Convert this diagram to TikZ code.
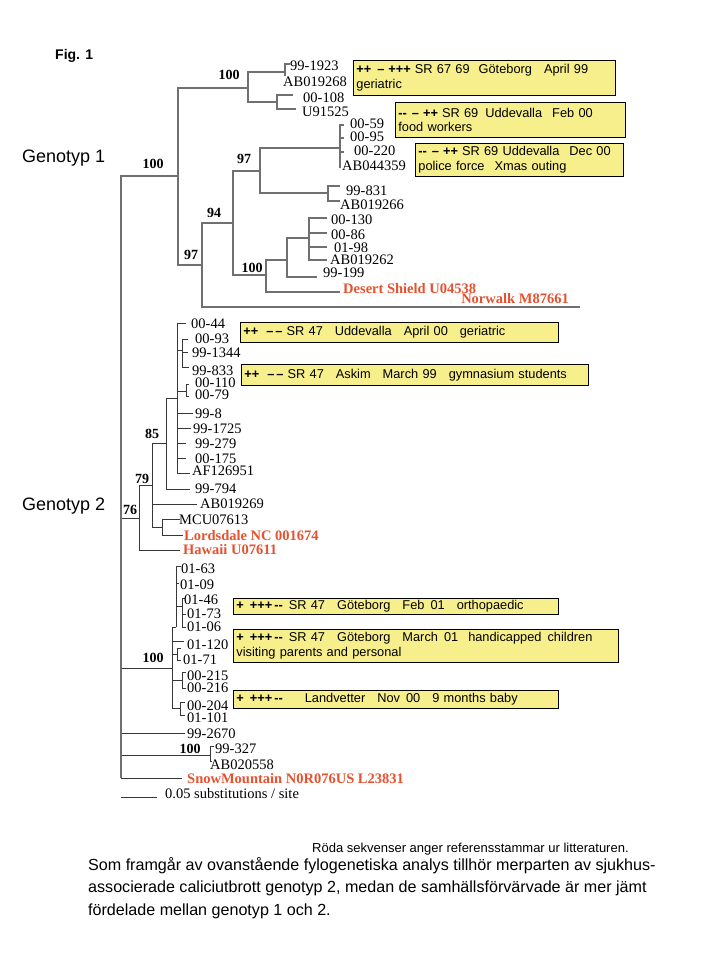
\documentclass[tikz,border=0pt]{standalone}
\usepackage{fontspec}
\setmainfont{Liberation Serif}
\newfontfamily\arialfont{Liberation Sans}
\definecolor{refred}{RGB}{230,82,48}
\definecolor{noteyellow}{RGB}{247,239,140}
\definecolor{branchgray}{RGB}{112,112,112}
\newcommand\symb[1]{{\bfseries #1}}
\begin{document}
\begin{tikzpicture}[x=1pt,y=-1pt,
  br/.style={draw=branchgray, line width=1.3pt},
  brt/.style={draw=black!78, line width=0.8pt},
  leaf/.style={anchor=west, inner sep=0pt, text height=10pt, text depth=0pt, font=\fontsize{14.5}{16}\selectfont},
  refleaf/.style={leaf, text=refred, font=\fontsize{14.5}{16}\selectfont\bfseries},
  boot/.style={inner sep=0pt, text height=10pt, text depth=0pt, font=\fontsize{14}{16}\selectfont\bfseries},
  note/.style={draw=black, line width=0.8pt, fill=noteyellow, anchor=north west, align=left, inner xsep=3pt, inner ysep=0pt, font=\arialfont\fontsize{12.8}{14.5}\selectfont},
  sanslabel/.style={anchor=west, inner sep=0pt, text height=10pt, text depth=0pt},
]
\fill[white] (0,0) rectangle (720,960);
\useasboundingbox (0,0) rectangle (720,960);

% ---------- headings ----------
\node[sanslabel, font=\arialfont\bfseries\fontsize{14}{16}\selectfont] (fig) at (55,55) {Fig. 1};
\node[sanslabel, font=\arialfont\fontsize{18}{20}\selectfont] (geno1) at (22,158) {Genotyp 1};
\node[sanslabel, font=\arialfont\fontsize{18}{20}\selectfont] (geno2) at (22,505) {Genotyp 2};

% ---------- coordinates: root and internal nodes ----------
\coordinate (R) at (121,518);
\coordinate (nA) at (178,176);
\coordinate (nA1) at (248,88);
\coordinate (nA11) at (285,72);
\coordinate (nA12) at (277,102);
\coordinate (nB) at (202,265);
\coordinate (nC) at (233,223);
\coordinate (nD) at (260,171);
\coordinate (nD1) at (340,148);
\coordinate (nD2) at (328,193);
\coordinate (nE) at (266,275);
\coordinate (nF) at (287,260);
\coordinate (nG) at (309,238);
% genotype 2
\coordinate (nK) at (139,518);
\coordinate (nK1) at (152,485);
\coordinate (nK2) at (162,527);
\coordinate (nH0) at (166,443);
\coordinate (nH) at (177,398);
\coordinate (nH1) at (182,350);
\coordinate (nH2) at (186,391);
% third clade
\coordinate (nL) at (172,668);
\coordinate (nL1) at (176,627);
\coordinate (nL1a) at (182,606);
\coordinate (nL2) at (177,654);
\coordinate (nL3) at (182,680);
\coordinate (nL4) at (180,708);
\coordinate (nM) at (210,755);

% ---------- tips ----------
\coordinate (t1923) at (290,64);
\coordinate (t9268) at (285,76);
\coordinate (t0108) at (293,95);
\coordinate (t1525) at (296,109);
\coordinate (t0059) at (344,125);
\coordinate (t0095) at (344,138);
\coordinate (t0220) at (344,152);
\coordinate (t4359) at (341,167);
\coordinate (t9831) at (340,186);
\coordinate (t9266) at (340,201);
\coordinate (t0130) at (327,218);
\coordinate (t0086) at (327,233);
\coordinate (t0198) at (327,247);
\coordinate (t9262) at (327,260);
\coordinate (t9199) at (317,277);
\coordinate (tDes) at (340,292);
\coordinate (tNor) at (580,307);
\coordinate (t0044) at (186,323);
\coordinate (t0093) at (188,339);
\coordinate (t1344) at (188,352);
\coordinate (t9833) at (189,367);
\coordinate (t0110) at (189,384);
\coordinate (t0079) at (189,396);
\coordinate (t998) at (193,413);
\coordinate (t1725) at (191,428);
\coordinate (t9279) at (186,443);
\coordinate (t0175) at (186,458);
\coordinate (t6951) at (190,473);
\coordinate (t9794) at (190,489);
\coordinate (t9269) at (197,504);
\coordinate (tMCU) at (180,519);
\coordinate (tLor) at (183,535);
\coordinate (tHaw) at (180,550);
\coordinate (t0163) at (181,566);
\coordinate (t0109) at (179,583);
\coordinate (t0146) at (185,598);
\coordinate (t0173) at (186,614);
\coordinate (t0106) at (186,627);
\coordinate (t0120) at (184,641);
\coordinate (t0171a) at (181,648);
\coordinate (t0171) at (181,660);
\coordinate (t0215) at (186,672);
\coordinate (t0216) at (186,688);
\coordinate (t0204) at (185,702);
\coordinate (t0101) at (185,715);
\coordinate (t2670) at (185,733);
\coordinate (t9327) at (214,746);
\coordinate (t0558) at (212,761);
\coordinate (tSnow) at (182,778);

% ---------- branches: genotype 1 ----------
\draw[br] (R) |- (nA);
\draw[br] (nA) |- (nA1);
\draw[br] (nA) |- (nB);
\draw[br] (nA1) |- (nA11);
\draw[br] (nA1) |- (nA12);
\draw[br] (nA11) |- (t1923);
\draw[br] (nA11) |- (t9268);
\draw[br] (nA12) |- (t0108);
\draw[br] (nA12) |- (t1525);
\draw[br] (nB) |- (nC);
\draw[br] (nB) |- (tNor);
\draw[br] (nC) |- (nD);
\draw[br] (nC) |- (nE);
\draw[br] (nD) |- (nD1);
\draw[br] (nD) |- (nD2);
\draw[br] (nD1) |- (t0059);
\draw[br] (nD1) |- (t0095);
\draw[br] (nD1) |- (t0220);
\draw[br] (nD1) |- (t4359);
\draw[br] (nD2) |- (t9831);
\draw[br] (nD2) |- (t9266);
\draw[br] (nE) |- (nF);
\draw[br] (nE) |- (tDes);
\draw[br] (nF) |- (nG);
\draw[br] (nF) |- (t9199);
\draw[br] (nG) |- (t0130);
\draw[br] (nG) |- (t0086);
\draw[br] (nG) |- (t0198);
\draw[br] (nG) |- (t9262);

% ---------- branches: genotype 2 ----------
\draw[brt] (R) |- (nK);
\draw[brt] (nK) |- (nK1);
\draw[brt] (nK) |- (tHaw);
\draw[brt] (nK1) |- (nH0);
\draw[brt] (nK1) |- (t9269);
\draw[brt] (nK1) |- (nK2);
\draw[brt] (nK2) |- (tMCU);
\draw[brt] (nK2) |- (tLor);
\draw[brt] (nH0) |- (nH);
\draw[brt] (nH0) |- (t9794);
\draw[brt] (nH) |- (t0044);
\draw[brt] (nH) |- (nH1);
\draw[brt] (nH) |- (nH2);
\draw[brt] (nH) |- (t998);
\draw[brt] (nH) |- (t1725);
\draw[brt] (nH) |- (t9279);
\draw[brt] (nH) |- (t0175);
\draw[brt] (nH) |- (t6951);
\draw[brt] (nH1) |- (t0093);
\draw[brt] (nH1) |- (t1344);
\draw[brt] (nH1) |- (t9833);
\draw[brt] (nH2) |- (t0110);
\draw[brt] (nH2) |- (t0079);
% third clade
\draw[brt] (R) |- (nL);
\draw[brt] (nL) |- (nL1);
\draw[brt] (nL) |- (t0120);
\draw[brt] (nL) |- (nL2);
\draw[brt] (nL) |- (nL3);
\draw[brt] (nL) |- (nL4);
\draw[brt] (nL1) |- (t0163);
\draw[brt] (nL1) |- (t0109);
\draw[brt] (nL1) |- (nL1a);
\draw[brt] (nL1a) |- (t0146);
\draw[brt] (nL1a) |- (t0173);
\draw[brt] (nL1a) |- (t0106);
\draw[brt] (nL2) |- (t0171a);
\draw[brt] (nL2) |- (t0171);
\draw[brt] (nL3) |- (t0215);
\draw[brt] (nL3) |- (t0216);
\draw[brt] (nL4) |- (t0204);
\draw[brt] (nL4) |- (t0101);
% bottom branches
\draw[brt] (R) |- (t2670);
\draw[brt] (R) |- (nM);
\draw[brt] (nM) |- (t9327);
\draw[brt] (nM) |- (t0558);
\draw[brt] (R) |- (tSnow);
% root vertical on top
\draw[br] (R |- nA) -- (R |- tSnow);

% ---------- bootstrap values ----------
\node[boot] (b1) at (153,163) {100};
\node[boot] (b2) at (229,75) {100};
\node[boot] (b3) at (244,159) {97};
\node[boot] (b4) at (214,212) {94};
\node[boot] (b5) at (191,254) {97};
\node[boot] (b6) at (252,267) {100};
\node[boot] (b7) at (152,433) {85};
\node[boot] (b8) at (142,478) {79};
\node[boot] (b9) at (130,509) {76};
\node[boot] (b10) at (153,657) {100};
\node[boot] (b11) at (190,748) {100};

% ---------- leaf labels ----------
\node[leaf] (l1923) at (290,66) {99-1923};
\node[leaf] (l9268) at (283,82) {AB019268};
\node[leaf] (l0108) at (303,98) {00-108};
\node[leaf] (l1525) at (302,112) {U91525};
\node[leaf] (l0059) at (350,124) {00-59};
\node[leaf] (l0095) at (350,137) {00-95};
\node[leaf] (l0220) at (354,151) {00-220};
\node[leaf] (l4359) at (342,166) {AB044359};
\node[leaf] (l9831) at (346,190) {99-831};
\node[leaf] (l9266) at (340,204) {AB019266};
\node[leaf] (l0130) at (331,219) {00-130};
\node[leaf] (l0086) at (331,234) {00-86};
\node[leaf] (l0198) at (334,247) {01-98};
\node[leaf] (l9262) at (330,259) {AB019262};
\node[leaf] (l9199) at (323,272) {99-199};
\node[refleaf] (lDes) at (343,288) {Desert Shield U04538};
\node[refleaf, anchor=east] (lNor) at (569,298) {Norwalk M87661};

\node[leaf] (l0044) at (191,323) {00-44};
\node[leaf] (l0093) at (195,338) {00-93};
\node[leaf] (l1344) at (192,352) {99-1344};
\node[leaf] (l9833) at (192,370) {99-833};
\node[leaf] (l0110) at (195,382) {00-110};
\node[leaf] (l0079) at (195,394) {00-79};
\node[leaf] (l998) at (195,413) {99-8};
\node[leaf] (l1725) at (193,428) {99-1725};
\node[leaf] (l9279) at (195,443) {99-279};
\node[leaf] (l0175) at (195,458) {00-175};
\node[leaf] (l6951) at (192,470) {AF126951};
\node[leaf] (l9794) at (195,488) {99-794};
\node[leaf] (l9269) at (200,503) {AB019269};
\node[leaf] (lMCU) at (179,519) {MCU07613};
\node[refleaf] (lLor) at (184,535) {Lordsdale NC 001674};
\node[refleaf] (lHaw) at (183,549) {Hawaii U07611};

\node[leaf] (l0163) at (181,568) {01-63};
\node[leaf] (l0109) at (180,584) {01-09};
\node[leaf] (l0146) at (184,599) {01-46};
\node[leaf] (l0173) at (187,613) {01-73};
\node[leaf] (l0106) at (187,626) {01-06};
\node[leaf] (l0120) at (187,644) {01-120};
\node[leaf] (l0171) at (183,659) {01-71};
\node[leaf] (l0215) at (187,675) {00-215};
\node[leaf] (l0216) at (187,687) {00-216};
\node[leaf] (l0204) at (187,705) {00-204};
\node[leaf] (l0101) at (187,717) {01-101};
\node[leaf] (l2670) at (187,733) {99-2670};
\node[leaf] (l9327) at (215,748) {99-327};
\node[leaf] (l0558) at (210,764) {AB020558};
\node[refleaf] (lSnow) at (187,778) {SnowMountain N0R076US L23831};

% ---------- scale bar ----------
\coordinate (sb1) at (121,797);
\coordinate (sb2) at (157,797);
\draw[brt] (sb1) -- (sb2);
\node[leaf] (sbl) at (165,793) {0.05 substitutions / site};

% ---------- outbreak boxes ----------
\node[note, text width=256pt, minimum height=35pt] (box1) at (353,60)
  {\symb{++\hspace{6pt}–\hspace{4pt}+++}\hspace{4pt}SR 67 69\hspace{9pt}Göteborg\hspace{12pt}April 99\\geriatric};
\node[note, text width=224pt, minimum height=35pt] (box2) at (395,102)
  {\symb{-{}-\hspace{5pt}–\hspace{4pt}++}\hspace{4pt}SR 69\hspace{7pt}Uddevalla\hspace{10pt}Feb 00\\food workers};
\node[note, text width=202pt, minimum height=33pt] (box3) at (415,143)
  {\symb{-{}-\hspace{5pt}–\hspace{4pt}++}\hspace{4pt}SR 69 Uddevalla\hspace{10pt}Dec 00\\police force\hspace{10pt}Xmas outing};
\node[note, text width=312pt, minimum height=20pt] (box4) at (240,322)
  {\symb{++\hspace{8pt}–\hspace{2pt}–}\hspace{4pt}SR 47\hspace{12pt}Uddevalla\hspace{12pt}April 00\hspace{12pt}geriatric};
\node[note, text width=341pt, minimum height=21pt] (box5) at (241,364)
  {\symb{++\hspace{8pt}–\hspace{2pt}–}\hspace{4pt}SR 47\hspace{12pt}Askim\hspace{12pt}March 99\hspace{12pt}gymnasium students};
\node[note, text width=319pt, minimum height=16pt] (box6) at (233,598)
  {\symb{+\hspace{6pt}+++\hspace{2pt}-{}-}\hspace{6pt}SR 47\hspace{12pt}Göteborg\hspace{12pt}Feb\hspace{6pt}01\hspace{12pt}orthopaedic};
\node[note, text width=379pt, minimum height=33pt] (box7) at (233,629)
  {\symb{+\hspace{6pt}+++\hspace{2pt}-{}-}\hspace{6pt}SR 47\hspace{12pt}Göteborg\hspace{12pt}March\hspace{6pt}01\hspace{10pt}handicapped\hspace{6pt}children\\visiting parents and personal};
\node[note, text width=319pt, minimum height=18pt] (box8) at (233,690)
  {\symb{+\hspace{6pt}+++\hspace{2pt}-{}-}\hspace{22pt}Landvetter\hspace{12pt}Nov\hspace{6pt}00\hspace{12pt}9 months baby};

% ---------- footer texts ----------
\node[sanslabel, font=\arialfont\fontsize{13}{15}\selectfont] (note) at (312,847) {Röda sekvenser anger referensstammar ur litteraturen.};
\node[anchor=north west, inner sep=0pt, align=left, font=\arialfont\fontsize{16.1}{22.5}\selectfont] (para) at (88,857)
  {Som framgår av ovanstående fylogenetiska analys tillhör merparten av sjukhus-\\
   associerade caliciutbrott genotyp 2, medan de samhällsförvärvade är mer jämt\\
   fördelade mellan genotyp 1 och 2.};
\end{tikzpicture}
\end{document}
